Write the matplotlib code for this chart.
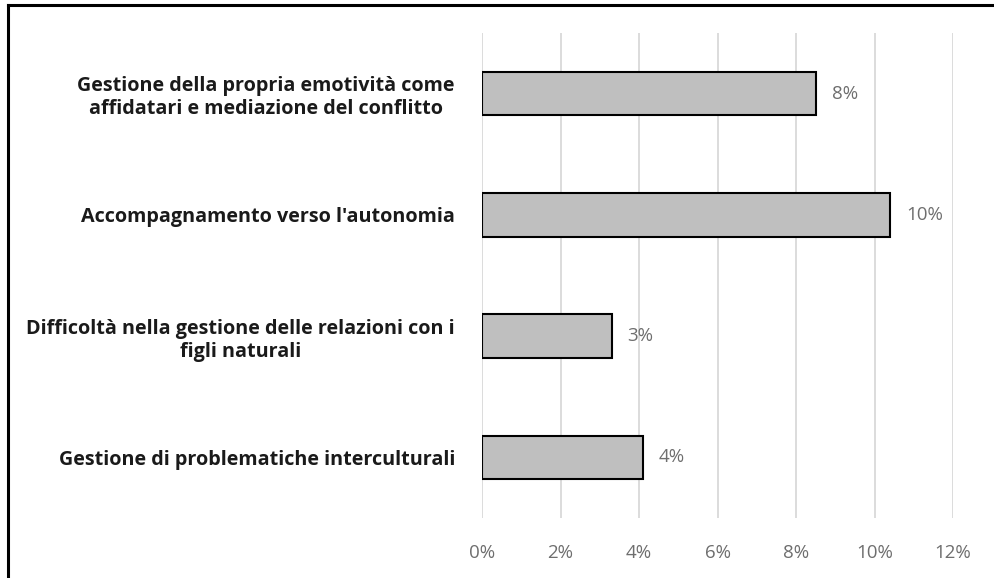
import matplotlib
matplotlib.use("Agg")
import matplotlib.pyplot as plt
from matplotlib.lines import Line2D

categories = [
    "Gestione della propria emotività come\naffidatari e mediazione del conflitto",
    "Accompagnamento verso l'autonomia",
    "Difficoltà nella gestione delle relazioni con i\nfigli naturali",
    "Gestione di problematiche interculturali",
]
values = [8.5, 10.4, 3.3, 4.1]
value_labels = ["8%", "10%", "3%", "4%"]
xticks = [0, 2, 4, 6, 8, 10, 12]
xtick_labels = ["0%", "2%", "4%", "6%", "8%", "10%", "12%"]

plt.rcParams['font.family'] = ['Open Sans', 'DejaVu Sans']

fig = plt.figure(figsize=(9.94, 5.78), dpi=100)
ax = fig.add_axes([482/994, 1-518/578, (953-482)/994, (518-33)/578])

ypos = list(range(len(categories)))
ax.barh(ypos, values, height=0.36, color="#BFBFBF", edgecolor="black", linewidth=1.5, zorder=3)
ax.set_ylim(len(categories)-0.5, -0.5)
ax.set_xlim(0, 12)
ax.set_xticks(xticks)
ax.set_xticklabels(xtick_labels, color="#6E6E6E", fontsize=13.5)
ax.set_yticks(ypos)
ax.set_yticklabels(categories, fontsize=14.2, fontweight="bold", color="#1A1A1A",
                   multialignment="center", linespacing=1.2)
ax.tick_params(axis="both", length=0)
ax.tick_params(axis="y", pad=19.5)
ax.tick_params(axis="x", pad=19)
ax.grid(axis="x", color="#D9D9D9", linewidth=1.3, zorder=0)
for s in ax.spines.values():
    s.set_visible(False)

for y, v, lab in zip(ypos, values, value_labels):
    ax.annotate(lab, (v, y), xytext=(11.5, 0), textcoords="offset points",
                va="center", ha="left", color="#6E6E6E", fontsize=13.5)

fig.add_artist(Line2D([8/994, 8/994], [0, 1-5/578], transform=fig.transFigure, color="black", linewidth=2.2))
fig.add_artist(Line2D([8/994, 1], [1-5/578, 1-5/578], transform=fig.transFigure, color="black", linewidth=2.2))

fig.savefig("out.png", dpi=100)
